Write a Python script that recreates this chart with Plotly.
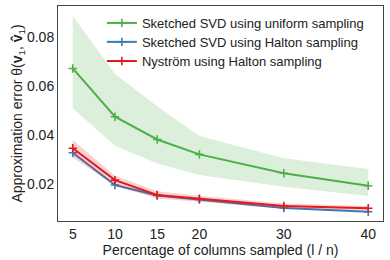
import plotly.graph_objects as go

pct = [5, 10, 15, 20, 30, 40]

uni_mean = [0.0672, 0.0475, 0.0382, 0.0321, 0.0244, 0.0193]
uni_upper = [0.0886, 0.0649, 0.0518, 0.0396, 0.0305, 0.0261]
uni_lower = [0.0509, 0.0356, 0.0284, 0.0237, 0.0189, 0.0151]

halton_svd = [0.0328, 0.0196, 0.0153, 0.0137, 0.0102, 0.0087]

nys_mean = [0.0346, 0.0216, 0.0155, 0.0140, 0.0110, 0.0101]
nys_upper = [0.0380, 0.0234, 0.0170, 0.0152, 0.0120, 0.0110]
nys_lower = [0.0308, 0.0193, 0.0141, 0.0128, 0.0100, 0.0092]

x_ticks = [5, 10, 15, 20, 30, 40]
y_ticks = [0.02, 0.04, 0.06, 0.08]

GREEN = "#4daf4a"
BLUE = "#377eb8"
RED = "#e41a1c"
FONT = "Liberation Sans, Arial, sans-serif"

fig = go.Figure()

def band(upper, lower, color):
    fig.add_trace(go.Scatter(x=pct, y=upper, mode="lines", line=dict(width=0, color=color),
                             showlegend=False, hoverinfo="skip"))
    fig.add_trace(go.Scatter(x=pct, y=lower, mode="lines", line=dict(width=0, color=color),
                             fill="tonexty", fillcolor=color, showlegend=False, hoverinfo="skip"))

def line(y, color, name, legend):
    fig.add_trace(go.Scatter(x=pct, y=y, mode="lines+markers", name=name, legend=legend,
                             line=dict(color=color, width=2),
                             marker=dict(symbol="cross-thin", size=6, color=color,
                                         line=dict(color=color, width=1.6))))

band(uni_upper, uni_lower, "rgba(77,175,74,0.2)")
line(uni_mean, GREEN, "Sketched SVD using uniform sampling", "legend")
line(halton_svd, BLUE, "Sketched SVD using Halton sampling", "legend2")
band(nys_upper, nys_lower, "rgba(228,26,28,0.2)")
line(nys_mean, RED, "Nyström using Halton sampling", "legend3")

axis_common = dict(showgrid=False, zeroline=False, showline=True, linecolor="#444",
                   linewidth=1, mirror=True, ticks="", automargin=False,
                   tickfont=dict(size=14, color="#222", family=FONT))

fig.update_xaxes(range=[3.25, 41.75], tickvals=x_ticks, ticktext=[str(v) for v in x_ticks],
                 title=dict(text="Percentage of columns sampled (l / n)",
                            font=dict(size=14, color="#222", family=FONT), standoff=0),
                 **axis_common)
fig.update_yaxes(range=[0.0049, 0.0927], tickvals=y_ticks,
                 ticktext=[f"{v:.2f}" for v in y_ticks],
                 title=dict(text="Approximation error θ(<b>v</b><sub>1</sub>, <b>v̂</b><sub>1</sub>)",
                            font=dict(size=14, color="#222", family=FONT), standoff=0),
                 **axis_common)

leg = dict(x=0.135, xanchor="left", yanchor="middle", bgcolor="rgba(0,0,0,0)", borderwidth=0,
           font=dict(size=13, family=FONT, color="#222"), itemwidth=30)

fig.update_layout(
    width=390, height=260,
    margin=dict(l=58, r=7, t=6, b=39),
    paper_bgcolor="white", plot_bgcolor="white",
    font=dict(family=FONT, size=13, color="#222"),
    legend=dict(y=0.921, **leg),
    legend2=dict(y=0.833, **leg),
    legend3=dict(y=0.744, **leg),
)

fig.write_html("out.html", config={"displayModeBar": False},
               post_script="document.body.style.margin='0';")
